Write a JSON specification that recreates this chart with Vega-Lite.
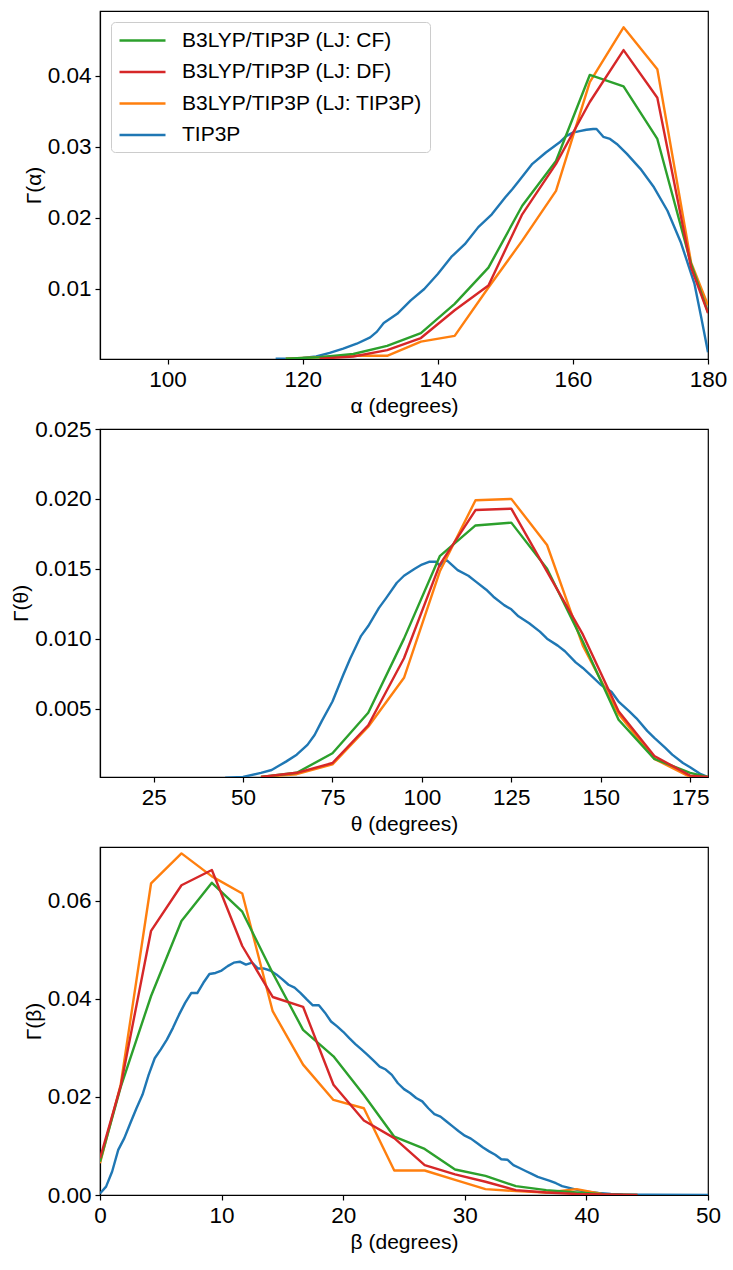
{
  "$schema": "https://vega.github.io/schema/vega-lite/v6.json",
  "background": "white",
  "padding": {"left": 10, "top": 10, "right": 5, "bottom": 5},
  "spacing": 70,
  "bounds": "flush",
  "resolve": {"legend": {"color": "independent"}},
  "datasets": {
    "alpha": [
      {"model": "TIP3P", "angle": 116, "gamma": 0.0002},
      {"model": "TIP3P", "angle": 118, "gamma": 0.0002},
      {"model": "TIP3P", "angle": 120, "gamma": 0.0003},
      {"model": "TIP3P", "angle": 122, "gamma": 0.0005},
      {"model": "TIP3P", "angle": 124, "gamma": 0.0010},
      {"model": "TIP3P", "angle": 126, "gamma": 0.0016},
      {"model": "TIP3P", "angle": 128, "gamma": 0.0023},
      {"model": "TIP3P", "angle": 130, "gamma": 0.0032},
      {"model": "TIP3P", "angle": 131, "gamma": 0.0040},
      {"model": "TIP3P", "angle": 132, "gamma": 0.0052},
      {"model": "TIP3P", "angle": 134, "gamma": 0.0065},
      {"model": "TIP3P", "angle": 136, "gamma": 0.0084},
      {"model": "TIP3P", "angle": 138, "gamma": 0.0100},
      {"model": "TIP3P", "angle": 140, "gamma": 0.0121},
      {"model": "TIP3P", "angle": 142, "gamma": 0.0145},
      {"model": "TIP3P", "angle": 144, "gamma": 0.0163},
      {"model": "TIP3P", "angle": 146, "gamma": 0.0187},
      {"model": "TIP3P", "angle": 148, "gamma": 0.0205},
      {"model": "TIP3P", "angle": 150, "gamma": 0.0229},
      {"model": "TIP3P", "angle": 151, "gamma": 0.0240},
      {"model": "TIP3P", "angle": 152, "gamma": 0.0252},
      {"model": "TIP3P", "angle": 154, "gamma": 0.0276},
      {"model": "TIP3P", "angle": 156, "gamma": 0.0292},
      {"model": "TIP3P", "angle": 158, "gamma": 0.0306},
      {"model": "TIP3P", "angle": 159, "gamma": 0.0315},
      {"model": "TIP3P", "angle": 160, "gamma": 0.0320},
      {"model": "TIP3P", "angle": 161, "gamma": 0.0322},
      {"model": "TIP3P", "angle": 162, "gamma": 0.0324},
      {"model": "TIP3P", "angle": 163, "gamma": 0.0325},
      {"model": "TIP3P", "angle": 163.5, "gamma": 0.0325},
      {"model": "TIP3P", "angle": 164.5, "gamma": 0.0314},
      {"model": "TIP3P", "angle": 165.5, "gamma": 0.0311},
      {"model": "TIP3P", "angle": 166.5, "gamma": 0.0304},
      {"model": "TIP3P", "angle": 168, "gamma": 0.0290},
      {"model": "TIP3P", "angle": 170, "gamma": 0.0269},
      {"model": "TIP3P", "angle": 172, "gamma": 0.0243},
      {"model": "TIP3P", "angle": 174, "gamma": 0.0210},
      {"model": "TIP3P", "angle": 176, "gamma": 0.0165},
      {"model": "TIP3P", "angle": 178, "gamma": 0.0107},
      {"model": "TIP3P", "angle": 179, "gamma": 0.0060},
      {"model": "TIP3P", "angle": 180, "gamma": 0.0011},
      {"model": "B3LYP/TIP3P (LJ: TIP3P)", "angle": 117.5, "gamma": 0.0002},
      {"model": "B3LYP/TIP3P (LJ: TIP3P)", "angle": 122.5, "gamma": 0.0004},
      {"model": "B3LYP/TIP3P (LJ: TIP3P)", "angle": 127.5, "gamma": 0.0006},
      {"model": "B3LYP/TIP3P (LJ: TIP3P)", "angle": 132.5, "gamma": 0.0006},
      {"model": "B3LYP/TIP3P (LJ: TIP3P)", "angle": 137.5, "gamma": 0.0026},
      {"model": "B3LYP/TIP3P (LJ: TIP3P)", "angle": 142.5, "gamma": 0.0034},
      {"model": "B3LYP/TIP3P (LJ: TIP3P)", "angle": 147.5, "gamma": 0.0102},
      {"model": "B3LYP/TIP3P (LJ: TIP3P)", "angle": 152.5, "gamma": 0.0168},
      {"model": "B3LYP/TIP3P (LJ: TIP3P)", "angle": 157.5, "gamma": 0.0238},
      {"model": "B3LYP/TIP3P (LJ: TIP3P)", "angle": 162.5, "gamma": 0.0391},
      {"model": "B3LYP/TIP3P (LJ: TIP3P)", "angle": 167.5, "gamma": 0.0468},
      {"model": "B3LYP/TIP3P (LJ: TIP3P)", "angle": 172.5, "gamma": 0.0409},
      {"model": "B3LYP/TIP3P (LJ: TIP3P)", "angle": 177.5, "gamma": 0.0137},
      {"model": "B3LYP/TIP3P (LJ: TIP3P)", "angle": 180, "gamma": 0.0077},
      {"model": "B3LYP/TIP3P (LJ: CF)", "angle": 117.5, "gamma": 0.0002},
      {"model": "B3LYP/TIP3P (LJ: CF)", "angle": 122.5, "gamma": 0.0004},
      {"model": "B3LYP/TIP3P (LJ: CF)", "angle": 127.5, "gamma": 0.00085},
      {"model": "B3LYP/TIP3P (LJ: CF)", "angle": 132.5, "gamma": 0.0020},
      {"model": "B3LYP/TIP3P (LJ: CF)", "angle": 137.5, "gamma": 0.0038},
      {"model": "B3LYP/TIP3P (LJ: CF)", "angle": 142.5, "gamma": 0.0079},
      {"model": "B3LYP/TIP3P (LJ: CF)", "angle": 147.5, "gamma": 0.0130},
      {"model": "B3LYP/TIP3P (LJ: CF)", "angle": 152.5, "gamma": 0.0217},
      {"model": "B3LYP/TIP3P (LJ: CF)", "angle": 157.5, "gamma": 0.0280},
      {"model": "B3LYP/TIP3P (LJ: CF)", "angle": 162.5, "gamma": 0.0401},
      {"model": "B3LYP/TIP3P (LJ: CF)", "angle": 167.5, "gamma": 0.0385},
      {"model": "B3LYP/TIP3P (LJ: CF)", "angle": 172.5, "gamma": 0.0311},
      {"model": "B3LYP/TIP3P (LJ: CF)", "angle": 177.5, "gamma": 0.0135},
      {"model": "B3LYP/TIP3P (LJ: CF)", "angle": 180, "gamma": 0.0067},
      {"model": "B3LYP/TIP3P (LJ: DF)", "angle": 122.5, "gamma": 0.0002},
      {"model": "B3LYP/TIP3P (LJ: DF)", "angle": 127.5, "gamma": 0.0005},
      {"model": "B3LYP/TIP3P (LJ: DF)", "angle": 132.5, "gamma": 0.0014},
      {"model": "B3LYP/TIP3P (LJ: DF)", "angle": 137.5, "gamma": 0.0031},
      {"model": "B3LYP/TIP3P (LJ: DF)", "angle": 142.5, "gamma": 0.0070},
      {"model": "B3LYP/TIP3P (LJ: DF)", "angle": 147.5, "gamma": 0.0105},
      {"model": "B3LYP/TIP3P (LJ: DF)", "angle": 152.5, "gamma": 0.0205},
      {"model": "B3LYP/TIP3P (LJ: DF)", "angle": 157.5, "gamma": 0.0276},
      {"model": "B3LYP/TIP3P (LJ: DF)", "angle": 162.5, "gamma": 0.0363},
      {"model": "B3LYP/TIP3P (LJ: DF)", "angle": 167.5, "gamma": 0.0436},
      {"model": "B3LYP/TIP3P (LJ: DF)", "angle": 172.5, "gamma": 0.0369},
      {"model": "B3LYP/TIP3P (LJ: DF)", "angle": 177.5, "gamma": 0.0130},
      {"model": "B3LYP/TIP3P (LJ: DF)", "angle": 180, "gamma": 0.0066}
    ],
    "theta": [
      {"model": "TIP3P", "angle": 45, "gamma": 0.00005},
      {"model": "TIP3P", "angle": 50, "gamma": 0.0001},
      {"model": "TIP3P", "angle": 55, "gamma": 0.0004},
      {"model": "TIP3P", "angle": 58, "gamma": 0.0006},
      {"model": "TIP3P", "angle": 60, "gamma": 0.0009},
      {"model": "TIP3P", "angle": 62, "gamma": 0.0012},
      {"model": "TIP3P", "angle": 65, "gamma": 0.0017},
      {"model": "TIP3P", "angle": 68, "gamma": 0.0024},
      {"model": "TIP3P", "angle": 70, "gamma": 0.0031},
      {"model": "TIP3P", "angle": 72, "gamma": 0.0041},
      {"model": "TIP3P", "angle": 75, "gamma": 0.0055},
      {"model": "TIP3P", "angle": 78, "gamma": 0.0074},
      {"model": "TIP3P", "angle": 80, "gamma": 0.0086},
      {"model": "TIP3P", "angle": 83, "gamma": 0.0102},
      {"model": "TIP3P", "angle": 85, "gamma": 0.0109},
      {"model": "TIP3P", "angle": 88, "gamma": 0.0122},
      {"model": "TIP3P", "angle": 90, "gamma": 0.0129},
      {"model": "TIP3P", "angle": 93, "gamma": 0.0140},
      {"model": "TIP3P", "angle": 95, "gamma": 0.0145},
      {"model": "TIP3P", "angle": 98, "gamma": 0.0150},
      {"model": "TIP3P", "angle": 100, "gamma": 0.0153},
      {"model": "TIP3P", "angle": 102, "gamma": 0.0155},
      {"model": "TIP3P", "angle": 104, "gamma": 0.0155},
      {"model": "TIP3P", "angle": 105, "gamma": 0.0152},
      {"model": "TIP3P", "angle": 106, "gamma": 0.0155},
      {"model": "TIP3P", "angle": 107, "gamma": 0.0156},
      {"model": "TIP3P", "angle": 110, "gamma": 0.0149},
      {"model": "TIP3P", "angle": 113, "gamma": 0.0145},
      {"model": "TIP3P", "angle": 115, "gamma": 0.0141},
      {"model": "TIP3P", "angle": 118, "gamma": 0.0135},
      {"model": "TIP3P", "angle": 120, "gamma": 0.0130},
      {"model": "TIP3P", "angle": 123, "gamma": 0.0124},
      {"model": "TIP3P", "angle": 125, "gamma": 0.0121},
      {"model": "TIP3P", "angle": 127, "gamma": 0.0116},
      {"model": "TIP3P", "angle": 130, "gamma": 0.0111},
      {"model": "TIP3P", "angle": 133, "gamma": 0.0105},
      {"model": "TIP3P", "angle": 135, "gamma": 0.0100},
      {"model": "TIP3P", "angle": 138, "gamma": 0.0095},
      {"model": "TIP3P", "angle": 140, "gamma": 0.0091},
      {"model": "TIP3P", "angle": 143, "gamma": 0.0083},
      {"model": "TIP3P", "angle": 145, "gamma": 0.0079},
      {"model": "TIP3P", "angle": 148, "gamma": 0.0072},
      {"model": "TIP3P", "angle": 150, "gamma": 0.0067},
      {"model": "TIP3P", "angle": 153, "gamma": 0.0062},
      {"model": "TIP3P", "angle": 155, "gamma": 0.0055},
      {"model": "TIP3P", "angle": 158, "gamma": 0.0048},
      {"model": "TIP3P", "angle": 160, "gamma": 0.0043},
      {"model": "TIP3P", "angle": 163, "gamma": 0.0034},
      {"model": "TIP3P", "angle": 165, "gamma": 0.0029},
      {"model": "TIP3P", "angle": 168, "gamma": 0.0022},
      {"model": "TIP3P", "angle": 170, "gamma": 0.0017},
      {"model": "TIP3P", "angle": 173, "gamma": 0.0011},
      {"model": "TIP3P", "angle": 175, "gamma": 0.0008},
      {"model": "TIP3P", "angle": 178, "gamma": 0.0003},
      {"model": "TIP3P", "angle": 180, "gamma": 0.0001},
      {"model": "B3LYP/TIP3P (LJ: TIP3P)", "angle": 55, "gamma": 0.0001},
      {"model": "B3LYP/TIP3P (LJ: TIP3P)", "angle": 65, "gamma": 0.0003},
      {"model": "B3LYP/TIP3P (LJ: TIP3P)", "angle": 75, "gamma": 0.0010},
      {"model": "B3LYP/TIP3P (LJ: TIP3P)", "angle": 85, "gamma": 0.0037},
      {"model": "B3LYP/TIP3P (LJ: TIP3P)", "angle": 95, "gamma": 0.0072},
      {"model": "B3LYP/TIP3P (LJ: TIP3P)", "angle": 105, "gamma": 0.0148},
      {"model": "B3LYP/TIP3P (LJ: TIP3P)", "angle": 115, "gamma": 0.0199},
      {"model": "B3LYP/TIP3P (LJ: TIP3P)", "angle": 125, "gamma": 0.0200},
      {"model": "B3LYP/TIP3P (LJ: TIP3P)", "angle": 135, "gamma": 0.0167},
      {"model": "B3LYP/TIP3P (LJ: TIP3P)", "angle": 145, "gamma": 0.0095},
      {"model": "B3LYP/TIP3P (LJ: TIP3P)", "angle": 155, "gamma": 0.0046},
      {"model": "B3LYP/TIP3P (LJ: TIP3P)", "angle": 165, "gamma": 0.0014},
      {"model": "B3LYP/TIP3P (LJ: TIP3P)", "angle": 175, "gamma": 0.0001},
      {"model": "B3LYP/TIP3P (LJ: TIP3P)", "angle": 180, "gamma": 0.0001},
      {"model": "B3LYP/TIP3P (LJ: CF)", "angle": 55, "gamma": 0.0001},
      {"model": "B3LYP/TIP3P (LJ: CF)", "angle": 65, "gamma": 0.0004},
      {"model": "B3LYP/TIP3P (LJ: CF)", "angle": 75, "gamma": 0.0018},
      {"model": "B3LYP/TIP3P (LJ: CF)", "angle": 85, "gamma": 0.0047},
      {"model": "B3LYP/TIP3P (LJ: CF)", "angle": 95, "gamma": 0.0100},
      {"model": "B3LYP/TIP3P (LJ: CF)", "angle": 105, "gamma": 0.0159},
      {"model": "B3LYP/TIP3P (LJ: CF)", "angle": 115, "gamma": 0.0181},
      {"model": "B3LYP/TIP3P (LJ: CF)", "angle": 125, "gamma": 0.0183},
      {"model": "B3LYP/TIP3P (LJ: CF)", "angle": 135, "gamma": 0.0150},
      {"model": "B3LYP/TIP3P (LJ: CF)", "angle": 145, "gamma": 0.0098},
      {"model": "B3LYP/TIP3P (LJ: CF)", "angle": 155, "gamma": 0.0042},
      {"model": "B3LYP/TIP3P (LJ: CF)", "angle": 165, "gamma": 0.0014},
      {"model": "B3LYP/TIP3P (LJ: CF)", "angle": 175, "gamma": 0.0004},
      {"model": "B3LYP/TIP3P (LJ: CF)", "angle": 180, "gamma": 0.0001},
      {"model": "B3LYP/TIP3P (LJ: DF)", "angle": 55, "gamma": 0.0001},
      {"model": "B3LYP/TIP3P (LJ: DF)", "angle": 65, "gamma": 0.0004},
      {"model": "B3LYP/TIP3P (LJ: DF)", "angle": 75, "gamma": 0.0011},
      {"model": "B3LYP/TIP3P (LJ: DF)", "angle": 85, "gamma": 0.0038},
      {"model": "B3LYP/TIP3P (LJ: DF)", "angle": 95, "gamma": 0.0086},
      {"model": "B3LYP/TIP3P (LJ: DF)", "angle": 105, "gamma": 0.0153},
      {"model": "B3LYP/TIP3P (LJ: DF)", "angle": 115, "gamma": 0.0192},
      {"model": "B3LYP/TIP3P (LJ: DF)", "angle": 125, "gamma": 0.0193},
      {"model": "B3LYP/TIP3P (LJ: DF)", "angle": 135, "gamma": 0.0148},
      {"model": "B3LYP/TIP3P (LJ: DF)", "angle": 145, "gamma": 0.0103},
      {"model": "B3LYP/TIP3P (LJ: DF)", "angle": 155, "gamma": 0.0048},
      {"model": "B3LYP/TIP3P (LJ: DF)", "angle": 165, "gamma": 0.0016},
      {"model": "B3LYP/TIP3P (LJ: DF)", "angle": 175, "gamma": 0.0002},
      {"model": "B3LYP/TIP3P (LJ: DF)", "angle": 180, "gamma": 0.0001}
    ],
    "beta": [
      {"model": "TIP3P", "angle": 0, "gamma": 0.0003},
      {"model": "TIP3P", "angle": 0.5, "gamma": 0.0017},
      {"model": "TIP3P", "angle": 1, "gamma": 0.0048},
      {"model": "TIP3P", "angle": 1.5, "gamma": 0.0092},
      {"model": "TIP3P", "angle": 2, "gamma": 0.0116},
      {"model": "TIP3P", "angle": 2.5, "gamma": 0.0147},
      {"model": "TIP3P", "angle": 3, "gamma": 0.0177},
      {"model": "TIP3P", "angle": 3.5, "gamma": 0.0205},
      {"model": "TIP3P", "angle": 4, "gamma": 0.0245},
      {"model": "TIP3P", "angle": 4.5, "gamma": 0.0279},
      {"model": "TIP3P", "angle": 5, "gamma": 0.0297},
      {"model": "TIP3P", "angle": 5.5, "gamma": 0.0317},
      {"model": "TIP3P", "angle": 6, "gamma": 0.0341},
      {"model": "TIP3P", "angle": 6.5, "gamma": 0.0368},
      {"model": "TIP3P", "angle": 7, "gamma": 0.0392},
      {"model": "TIP3P", "angle": 7.5, "gamma": 0.0412},
      {"model": "TIP3P", "angle": 8, "gamma": 0.0412},
      {"model": "TIP3P", "angle": 8.5, "gamma": 0.0433},
      {"model": "TIP3P", "angle": 9, "gamma": 0.0451},
      {"model": "TIP3P", "angle": 9.5, "gamma": 0.0453},
      {"model": "TIP3P", "angle": 10, "gamma": 0.0458},
      {"model": "TIP3P", "angle": 10.5, "gamma": 0.0467},
      {"model": "TIP3P", "angle": 11, "gamma": 0.0474},
      {"model": "TIP3P", "angle": 11.5, "gamma": 0.0476},
      {"model": "TIP3P", "angle": 12, "gamma": 0.0470},
      {"model": "TIP3P", "angle": 12.5, "gamma": 0.0474},
      {"model": "TIP3P", "angle": 13, "gamma": 0.0462},
      {"model": "TIP3P", "angle": 13.5, "gamma": 0.0462},
      {"model": "TIP3P", "angle": 14, "gamma": 0.0458},
      {"model": "TIP3P", "angle": 14.5, "gamma": 0.0450},
      {"model": "TIP3P", "angle": 15, "gamma": 0.0440},
      {"model": "TIP3P", "angle": 15.5, "gamma": 0.0429},
      {"model": "TIP3P", "angle": 16, "gamma": 0.0423},
      {"model": "TIP3P", "angle": 16.5, "gamma": 0.0412},
      {"model": "TIP3P", "angle": 17, "gamma": 0.0399},
      {"model": "TIP3P", "angle": 17.5, "gamma": 0.0387},
      {"model": "TIP3P", "angle": 18, "gamma": 0.0387},
      {"model": "TIP3P", "angle": 18.5, "gamma": 0.0372},
      {"model": "TIP3P", "angle": 19, "gamma": 0.0354},
      {"model": "TIP3P", "angle": 19.5, "gamma": 0.0344},
      {"model": "TIP3P", "angle": 20, "gamma": 0.0333},
      {"model": "TIP3P", "angle": 20.5, "gamma": 0.0320},
      {"model": "TIP3P", "angle": 21, "gamma": 0.0308},
      {"model": "TIP3P", "angle": 21.5, "gamma": 0.0297},
      {"model": "TIP3P", "angle": 22, "gamma": 0.0286},
      {"model": "TIP3P", "angle": 22.5, "gamma": 0.0274},
      {"model": "TIP3P", "angle": 23, "gamma": 0.0262},
      {"model": "TIP3P", "angle": 23.5, "gamma": 0.0256},
      {"model": "TIP3P", "angle": 24, "gamma": 0.0245},
      {"model": "TIP3P", "angle": 24.5, "gamma": 0.0228},
      {"model": "TIP3P", "angle": 25, "gamma": 0.0216},
      {"model": "TIP3P", "angle": 25.5, "gamma": 0.0208},
      {"model": "TIP3P", "angle": 26, "gamma": 0.0198},
      {"model": "TIP3P", "angle": 26.5, "gamma": 0.0191},
      {"model": "TIP3P", "angle": 27, "gamma": 0.0177},
      {"model": "TIP3P", "angle": 27.5, "gamma": 0.0165},
      {"model": "TIP3P", "angle": 28, "gamma": 0.0160},
      {"model": "TIP3P", "angle": 28.5, "gamma": 0.0150},
      {"model": "TIP3P", "angle": 29, "gamma": 0.0140},
      {"model": "TIP3P", "angle": 29.5, "gamma": 0.0130},
      {"model": "TIP3P", "angle": 30, "gamma": 0.0121},
      {"model": "TIP3P", "angle": 30.5, "gamma": 0.0115},
      {"model": "TIP3P", "angle": 31, "gamma": 0.0106},
      {"model": "TIP3P", "angle": 31.5, "gamma": 0.0097},
      {"model": "TIP3P", "angle": 32, "gamma": 0.0089},
      {"model": "TIP3P", "angle": 32.5, "gamma": 0.0082},
      {"model": "TIP3P", "angle": 33, "gamma": 0.0073},
      {"model": "TIP3P", "angle": 33.5, "gamma": 0.0072},
      {"model": "TIP3P", "angle": 34, "gamma": 0.0061},
      {"model": "TIP3P", "angle": 34.5, "gamma": 0.0055},
      {"model": "TIP3P", "angle": 35, "gamma": 0.0049},
      {"model": "TIP3P", "angle": 35.5, "gamma": 0.0043},
      {"model": "TIP3P", "angle": 36, "gamma": 0.0037},
      {"model": "TIP3P", "angle": 36.5, "gamma": 0.0033},
      {"model": "TIP3P", "angle": 37, "gamma": 0.0029},
      {"model": "TIP3P", "angle": 37.5, "gamma": 0.0024},
      {"model": "TIP3P", "angle": 38, "gamma": 0.0018},
      {"model": "TIP3P", "angle": 38.5, "gamma": 0.0015},
      {"model": "TIP3P", "angle": 39, "gamma": 0.0012},
      {"model": "TIP3P", "angle": 39.5, "gamma": 0.0009},
      {"model": "TIP3P", "angle": 40, "gamma": 0.0007},
      {"model": "TIP3P", "angle": 41, "gamma": 0.0004},
      {"model": "TIP3P", "angle": 42, "gamma": 0.0002},
      {"model": "TIP3P", "angle": 43, "gamma": 0.0001},
      {"model": "TIP3P", "angle": 45, "gamma": 0.00005},
      {"model": "TIP3P", "angle": 50, "gamma": 0.0},
      {"model": "B3LYP/TIP3P (LJ: TIP3P)", "angle": 0, "gamma": 0.0065},
      {"model": "B3LYP/TIP3P (LJ: TIP3P)", "angle": 1.7, "gamma": 0.0225},
      {"model": "B3LYP/TIP3P (LJ: TIP3P)", "angle": 4.2, "gamma": 0.0636},
      {"model": "B3LYP/TIP3P (LJ: TIP3P)", "angle": 6.7, "gamma": 0.0697},
      {"model": "B3LYP/TIP3P (LJ: TIP3P)", "angle": 9.2, "gamma": 0.0650},
      {"model": "B3LYP/TIP3P (LJ: TIP3P)", "angle": 11.7, "gamma": 0.0615},
      {"model": "B3LYP/TIP3P (LJ: TIP3P)", "angle": 14.2, "gamma": 0.0375},
      {"model": "B3LYP/TIP3P (LJ: TIP3P)", "angle": 16.7, "gamma": 0.0266},
      {"model": "B3LYP/TIP3P (LJ: TIP3P)", "angle": 19.2, "gamma": 0.0194},
      {"model": "B3LYP/TIP3P (LJ: TIP3P)", "angle": 21.7, "gamma": 0.0177},
      {"model": "B3LYP/TIP3P (LJ: TIP3P)", "angle": 24.2, "gamma": 0.0050},
      {"model": "B3LYP/TIP3P (LJ: TIP3P)", "angle": 26.7, "gamma": 0.0050},
      {"model": "B3LYP/TIP3P (LJ: TIP3P)", "angle": 29.2, "gamma": 0.0031},
      {"model": "B3LYP/TIP3P (LJ: TIP3P)", "angle": 31.7, "gamma": 0.0012},
      {"model": "B3LYP/TIP3P (LJ: TIP3P)", "angle": 34.2, "gamma": 0.0008},
      {"model": "B3LYP/TIP3P (LJ: TIP3P)", "angle": 36.7, "gamma": 0.0005},
      {"model": "B3LYP/TIP3P (LJ: TIP3P)", "angle": 39.2, "gamma": 0.0012},
      {"model": "B3LYP/TIP3P (LJ: TIP3P)", "angle": 41.7, "gamma": 0.0},
      {"model": "B3LYP/TIP3P (LJ: CF)", "angle": 0, "gamma": 0.0068},
      {"model": "B3LYP/TIP3P (LJ: CF)", "angle": 1.7, "gamma": 0.0220},
      {"model": "B3LYP/TIP3P (LJ: CF)", "angle": 4.2, "gamma": 0.0406},
      {"model": "B3LYP/TIP3P (LJ: CF)", "angle": 6.7, "gamma": 0.0559},
      {"model": "B3LYP/TIP3P (LJ: CF)", "angle": 9.2, "gamma": 0.0637},
      {"model": "B3LYP/TIP3P (LJ: CF)", "angle": 11.7, "gamma": 0.0578},
      {"model": "B3LYP/TIP3P (LJ: CF)", "angle": 14.2, "gamma": 0.0453},
      {"model": "B3LYP/TIP3P (LJ: CF)", "angle": 16.7, "gamma": 0.0337},
      {"model": "B3LYP/TIP3P (LJ: CF)", "angle": 19.2, "gamma": 0.0283},
      {"model": "B3LYP/TIP3P (LJ: CF)", "angle": 21.7, "gamma": 0.0204},
      {"model": "B3LYP/TIP3P (LJ: CF)", "angle": 24.2, "gamma": 0.0119},
      {"model": "B3LYP/TIP3P (LJ: CF)", "angle": 26.7, "gamma": 0.0094},
      {"model": "B3LYP/TIP3P (LJ: CF)", "angle": 29.2, "gamma": 0.0052},
      {"model": "B3LYP/TIP3P (LJ: CF)", "angle": 31.7, "gamma": 0.0039},
      {"model": "B3LYP/TIP3P (LJ: CF)", "angle": 34.2, "gamma": 0.0018},
      {"model": "B3LYP/TIP3P (LJ: CF)", "angle": 36.7, "gamma": 0.0010},
      {"model": "B3LYP/TIP3P (LJ: CF)", "angle": 39.2, "gamma": 0.0005},
      {"model": "B3LYP/TIP3P (LJ: CF)", "angle": 41.7, "gamma": 0.0001},
      {"model": "B3LYP/TIP3P (LJ: CF)", "angle": 44.2, "gamma": 0.0},
      {"model": "B3LYP/TIP3P (LJ: DF)", "angle": 0, "gamma": 0.0075},
      {"model": "B3LYP/TIP3P (LJ: DF)", "angle": 1.7, "gamma": 0.0222},
      {"model": "B3LYP/TIP3P (LJ: DF)", "angle": 4.2, "gamma": 0.0539},
      {"model": "B3LYP/TIP3P (LJ: DF)", "angle": 6.7, "gamma": 0.0632},
      {"model": "B3LYP/TIP3P (LJ: DF)", "angle": 9.2, "gamma": 0.0663},
      {"model": "B3LYP/TIP3P (LJ: DF)", "angle": 11.7, "gamma": 0.0508},
      {"model": "B3LYP/TIP3P (LJ: DF)", "angle": 14.2, "gamma": 0.0404},
      {"model": "B3LYP/TIP3P (LJ: DF)", "angle": 16.7, "gamma": 0.0384},
      {"model": "B3LYP/TIP3P (LJ: DF)", "angle": 19.2, "gamma": 0.0225},
      {"model": "B3LYP/TIP3P (LJ: DF)", "angle": 21.7, "gamma": 0.0152},
      {"model": "B3LYP/TIP3P (LJ: DF)", "angle": 24.2, "gamma": 0.0116},
      {"model": "B3LYP/TIP3P (LJ: DF)", "angle": 26.7, "gamma": 0.0061},
      {"model": "B3LYP/TIP3P (LJ: DF)", "angle": 29.2, "gamma": 0.0042},
      {"model": "B3LYP/TIP3P (LJ: DF)", "angle": 31.7, "gamma": 0.0027},
      {"model": "B3LYP/TIP3P (LJ: DF)", "angle": 34.2, "gamma": 0.0010},
      {"model": "B3LYP/TIP3P (LJ: DF)", "angle": 36.7, "gamma": 0.0005},
      {"model": "B3LYP/TIP3P (LJ: DF)", "angle": 39.2, "gamma": 0.0002},
      {"model": "B3LYP/TIP3P (LJ: DF)", "angle": 41.7, "gamma": 0.0001},
      {"model": "B3LYP/TIP3P (LJ: DF)", "angle": 44.2, "gamma": 0.0}
    ]
  },
  "vconcat": [
    {
      "width": 608,
      "height": 348,
      "data": {"name": "alpha"},
      "mark": {"type": "line", "strokeWidth": 2.4, "strokeJoin": "round", "clip": true},
      "encoding": {
        "x": {"field": "angle", "type": "quantitative", "scale": {"domain": [90, 180], "nice": false, "zero": false}, "axis": {"values": [100, 120, 140, 160, 180], "title": "α (degrees)"}},
        "y": {"field": "gamma", "type": "quantitative", "scale": {"domain": [0.00015, 0.0491], "nice": false, "zero": false}, "axis": {"values": [0.01, 0.02, 0.03, 0.04], "format": ".2f", "title": "Γ(α)"}},
        "color": {
          "field": "model", "type": "nominal",
          "scale": {"domain": ["B3LYP/TIP3P (LJ: CF)", "B3LYP/TIP3P (LJ: DF)", "B3LYP/TIP3P (LJ: TIP3P)", "TIP3P"], "range": ["#2ca02c", "#d62728", "#ff7f0e", "#1f77b4"]},
          "legend": {"title": null, "orient": "top-left", "offset": 11, "fillColor": "rgba(255,255,255,0.8)", "strokeColor": "#cccccc", "cornerRadius": 4, "padding": 7, "symbolType": "M-1,0H3.6", "symbolSize": 400, "symbolStrokeWidth": 2.6, "labelFont": "Liberation Sans", "labelFontSize": 21, "labelColor": "black", "labelOffset": 41, "rowPadding": 9.5, "labelLimit": 400}
        }
      }
    },
    {
      "width": 608,
      "height": 348,
      "data": {"name": "theta"},
      "mark": {"type": "line", "strokeWidth": 2.4, "strokeJoin": "round", "clip": true},
      "encoding": {
        "x": {"field": "angle", "type": "quantitative", "scale": {"domain": [10, 180], "nice": false, "zero": false}, "axis": {"values": [25, 50, 75, 100, 125, 150, 175], "title": "θ (degrees)"}},
        "y": {"field": "gamma", "type": "quantitative", "scale": {"domain": [0.0001, 0.025], "nice": false, "zero": false}, "axis": {"values": [0.005, 0.01, 0.015, 0.02, 0.025], "format": ".3f", "title": "Γ(θ)"}},
        "color": {
          "field": "model", "type": "nominal",
          "scale": {"domain": ["B3LYP/TIP3P (LJ: CF)", "B3LYP/TIP3P (LJ: DF)", "B3LYP/TIP3P (LJ: TIP3P)", "TIP3P"], "range": ["#2ca02c", "#d62728", "#ff7f0e", "#1f77b4"]},
          "legend": null
        }
      }
    },
    {
      "width": 608,
      "height": 348,
      "data": {"name": "beta"},
      "mark": {"type": "line", "strokeWidth": 2.4, "strokeJoin": "round", "clip": true},
      "encoding": {
        "x": {"field": "angle", "type": "quantitative", "scale": {"domain": [0, 50], "nice": false, "zero": false}, "axis": {"values": [0, 10, 20, 30, 40, 50], "title": "β (degrees)"}},
        "y": {"field": "gamma", "type": "quantitative", "scale": {"domain": [0, 0.071], "nice": false, "zero": false}, "axis": {"values": [0, 0.02, 0.04, 0.06], "format": ".2f", "title": "Γ(β)"}},
        "color": {
          "field": "model", "type": "nominal",
          "scale": {"domain": ["B3LYP/TIP3P (LJ: CF)", "B3LYP/TIP3P (LJ: DF)", "B3LYP/TIP3P (LJ: TIP3P)", "TIP3P"], "range": ["#2ca02c", "#d62728", "#ff7f0e", "#1f77b4"]},
          "legend": null
        }
      }
    }
  ],
  "config": {
    "font": "Liberation Sans",
    "view": {"stroke": "black", "strokeWidth": 1.2},
    "axis": {
      "grid": false,
      "domainColor": "black",
      "domainWidth": 1.2,
      "tickColor": "black",
      "tickWidth": 1.2,
      "tickSize": 5,
      "labelFont": "Liberation Sans",
      "labelFontSize": 22.5,
      "labelColor": "black",
      "labelPadding": 4,
      "labelOverlap": false,
      "labelFlush": false,
      "labelBound": false,
      "titleFont": "Liberation Sans",
      "titleFontSize": 21,
      "titleFontWeight": "normal",
      "titleColor": "black"
    },
    "axisY": {"titlePadding": 3},
    "axisX": {"titlePadding": 5}
  }
}
